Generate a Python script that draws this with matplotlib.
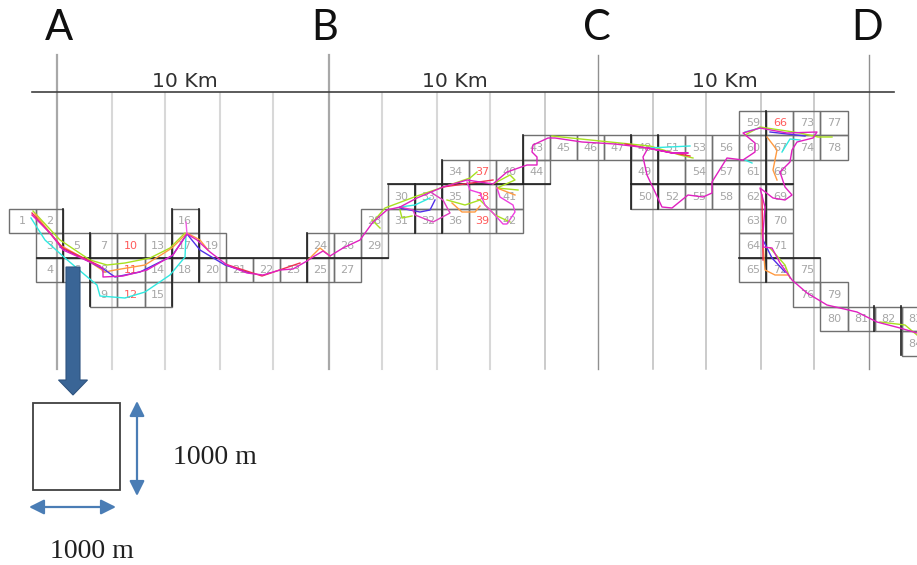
import matplotlib
matplotlib.use('Agg')
import matplotlib.pyplot as plt
from matplotlib.patches import Rectangle, FancyArrow

# Everything in pixels: x to the right, y downwards
cell_ids = list(range(1, 85))
cell_cols = [0, 1, 1, 1, 2, 2, 3, 3, 3, 4, 4, 4, 5, 5, 5, 6, 6, 6, 7, 7, 8, 9, 10,
             11, 11, 12, 12, 13, 13, 14, 14, 15, 15, 16, 16, 16, 17, 17, 17, 18, 18, 18,
             19, 19, 20, 21, 22, 23, 23, 23, 24, 24, 25, 25, 25, 26, 26, 26,
             27, 27, 27, 27, 27, 27, 27, 28, 28, 28, 28, 28, 28, 28,
             29, 29, 29, 29, 30, 30, 30, 30, 31, 32, 33, 33]
cell_rows = [4, 4, 5, 6, 5, 6, 5, 6, 7, 5, 6, 7, 5, 6, 7, 4, 5, 6, 5, 6, 6, 6, 6,
             5, 6, 5, 6, 4, 5, 3, 4, 4, 3, 2, 3, 4, 2, 3, 4, 2, 3, 4,
             1, 2, 1, 1, 1, 1, 2, 3, 1, 3, 1, 2, 3, 1, 2, 3,
             0, 1, 2, 3, 4, 5, 6, 0, 1, 2, 3, 4, 5, 6,
             0, 1, 6, 7, 0, 1, 7, 8, 8, 8, 8, 9]
red_cells = [10, 11, 12, 37, 38, 39, 66]
blank_cell = (24, 2)

major_x = [57, 329, 598, 869]
minor_x = [112, 165, 220, 273, 382, 437, 490, 545, 653, 706, 761, 814]
point_names = ['A', 'B', 'C', 'D']
point_x = [59, 325, 597, 867]
dist_labels = ['10 Km', '10 Km', '10 Km']
dist_x = [185, 455, 725]

# darker grid lines: (x0, y0, x1, y1)
dark_lines = [(37, 257.5, 388, 257.5), (388, 184, 550, 184), (631, 184, 793, 184),
              (739, 257.5, 820, 257.5), (63.3, 209, 63.3, 282), (90.4, 233, 90.4, 306),
              (171.5, 209, 171.5, 306), (198.6, 209, 198.6, 282), (306.7, 233, 306.7, 282),
              (415, 184, 415, 233), (442, 160, 442, 233), (523, 135, 523, 184),
              (631, 135, 631, 208.5), (658, 135, 658, 208.5), (766, 110.5, 766, 282),
              (874, 306, 874, 331), (901, 306, 901, 355)]

# GPS tracks
track_magenta = [(32, 215), (50, 233), (63, 250), (90, 262), (103, 268), (103, 277), (123, 276),
                 (147, 270), (173, 255), (187, 234), (197, 240), (210, 252), (227, 265),
                 (247, 273), (263, 275), (280, 270), (293, 269), (307, 261), (313, 257),
                 (323, 251), (330, 256), (343, 248), (360, 240), (373, 222), (387, 210),
                 (400, 207), (417, 198), (443, 187), (467, 180), (493, 184), (507, 172),
                 (527, 165), (537, 165), (537, 157), (532, 152), (533, 145), (548, 138),
                 (555, 138), (582, 142), (615, 144), (648, 148), (672, 153), (688, 153),
                 (672, 153), (648, 148), (643, 157), (647, 175), (655, 192), (662, 207),
                 (672, 208), (688, 195), (703, 197), (712, 193), (712, 182), (727, 158),
                 (743, 160), (755, 152), (755, 143), (743, 133), (760, 128), (787, 133),
                 (817, 132), (813, 138), (797, 142), (792, 150), (790, 162), (780, 172),
                 (785, 187), (792, 195), (785, 200), (773, 198), (760, 188), (765, 207),
                 (763, 233), (763, 247), (772, 248), (780, 263), (792, 280), (807, 293),
                 (827, 305), (857, 312), (877, 322), (900, 328), (917, 333)]
track_magenta_b = [(467, 182), (470, 190), (480, 193), (485, 205), (493, 213), (503, 224),
                   (507, 224), (515, 212), (513, 205), (500, 197), (497, 188)]
track_magenta_c = [(400, 207), (413, 210), (415, 215), (433, 222), (450, 213), (443, 200), (432, 193)]
track_magenta_d = [(187, 234), (186, 222)]
track_green = [(33, 211), (60, 240), (90, 260), (107, 265), (125, 263), (150, 258), (170, 248),
               (185, 233), None, (373, 222), (385, 208), (417, 196), (470, 178), (477, 172),
               None, (447, 200), (465, 205), (480, 200), (495, 215), (510, 222), None,
               (493, 184), (510, 175), (515, 180), (497, 188), (518, 190), None,
               (552, 136), (600, 141), (650, 146), (680, 155), (693, 158), None,
               (745, 135), (760, 127), (800, 133), (818, 137), (832, 137), None,
               (770, 248), (785, 265), (790, 278), None, (880, 322), (905, 325), (917, 335),
               None, (400, 210), (402, 218), (412, 216), None, (372, 220), (380, 228)]
track_cyan = [(31, 218), (45, 240), (65, 258), (85, 275), (97, 285), (100, 296), (125, 298),
              (145, 292), (170, 275), (185, 257), (186, 235), None, (400, 207), (415, 205),
              (430, 198), None, (648, 148), (690, 146), None, (745, 132), (760, 128), None,
              (782, 152), (790, 139), (800, 140), None, (745, 160), (752, 163)]
track_blue = [(60, 247), (90, 262), (105, 270), (115, 277), (140, 272), (172, 256), (187, 234),
              (200, 250), (225, 265), (250, 273), None, (400, 208), (420, 212), (430, 210),
              (435, 200), None, (770, 132), (805, 136), None, (763, 240), (772, 258), (785, 272)]
track_orange = [(35, 214), (60, 245), (90, 262), (105, 272), (115, 270), (145, 265), (172, 248),
                (187, 233), (200, 240), (208, 250), None, (308, 260), (320, 248), (330, 256),
                None, (497, 188), (515, 195), None, (767, 137), (777, 150), (773, 170), (777, 180),
                None, (762, 230), (765, 270), (775, 275), (788, 275), None,
                (452, 203), (462, 212), (475, 212), (480, 206)]
track_red = [(32, 213), (63, 248), (100, 266), None, (225, 264), (262, 276), (300, 263), None,
             (443, 187), (493, 180), None, (625, 144), (690, 156), None, (762, 195), (763, 260)]
tracks = [(track_green, '#a8e020'), (track_cyan, '#30e8e0'), (track_orange, '#ff9a40'),
          (track_blue, '#5030e8'), (track_red, '#f03050'), (track_magenta_b, '#ee40e0'),
          (track_magenta_c, '#e040c0'), (track_magenta_d, '#ee60e0'), (track_magenta, '#e020c0')]

X0, CW = 9.3, 27.04
Y0, CH = 110.5, 24.5


def split_track(points):
    """Разбить трек на куски по None"""
    parts, cur = [], []
    for p in points:
        if p is None:
            parts.append(cur)
            cur = []
        else:
            cur.append(p)
    parts.append(cur)
    return parts


fig = plt.figure(figsize=(9.17, 5.65), dpi=100)
ax = fig.add_axes([0, 0, 1, 1])
ax.set_xlim(0, 917)
ax.set_ylim(565, 0)
ax.axis('off')

# vertical reference lines
for i, x in enumerate(major_x):
    ax.plot([x, x], [55, 369], color='#a8a8a8' if i < 2 else '#909090',
            lw=1.6 if i < 2 else 1.0, zorder=1)
for x in minor_x:
    ax.plot([x, x], [93, 369], color='#d8d8d8' if x < 500 else '#bdbdbd',
            lw=1.5 if x < 500 else 1.1, zorder=1)
ax.plot([32, 894], [92, 92], color='#404040', lw=1.2, zorder=2)

# cells
for cid, c, r in zip(cell_ids, cell_cols, cell_rows):
    x, y = X0 + c * CW, Y0 + r * CH
    ax.add_patch(Rectangle((x, y), CW, CH, fill=False, ec='#707070', lw=1.0, zorder=3))
    ax.text(x + CW / 2, y + CH / 2 + 0.5, str(cid), ha='center', va='center', fontsize=8,
            color='#ff5a5a' if cid in red_cells else '#a6a6a6', zorder=4, clip_on=True)
ax.add_patch(Rectangle((X0 + blank_cell[0] * CW, Y0 + blank_cell[1] * CH), CW, CH,
                       fill=False, ec='#707070', lw=1.0, zorder=3))
for x0, y0, x1, y1 in dark_lines:
    ax.plot([x0, x1], [y0, y1], color='#202020', lw=1.2, zorder=3.5)

for points, color in tracks:
    for part in split_track(points):
        ax.plot([p[0] for p in part], [p[1] for p in part], color=color, lw=1.0,
                solid_joinstyle='round', zorder=5, clip_on=True)

# headers
for name, x in zip(point_names, point_x):
    ax.text(x, 40, name, ha='center', va='baseline', fontsize=30, family='Lato', color='#101010')
for label, x in zip(dist_labels, dist_x):
    ax.text(x, 87, label, ha='center', va='baseline', fontsize=14.7, color='#303030')

# big arrow and the unit square
ax.add_patch(FancyArrow(73, 267, 0, 128, width=14, head_width=29, head_length=15,
                        length_includes_head=True, fc='#3a6596', ec='#2f5480', lw=0.8, zorder=6))
ax.add_patch(Rectangle((32.7, 402.7), 87.3, 87.3, fill=False, ec='#404040', lw=1.3, zorder=3))
arrow_style = dict(arrowstyle='<|-|>,head_length=0.9,head_width=0.45', color='#4a7db5', lw=1.6,
                   shrinkA=0, shrinkB=0)
ax.annotate('', xy=(137, 401), xytext=(137, 496), arrowprops=arrow_style)
ax.annotate('', xy=(29, 507), xytext=(116, 507), arrowprops=arrow_style)
ax.text(215, 458, '1000 m', ha='center', va='center', fontsize=20,
        family='Liberation Serif', color='#202020')
ax.text(92, 551, '1000 m', ha='center', va='center', fontsize=20,
        family='Liberation Serif', color='#202020')

fig.savefig('out.png', dpi=100)
